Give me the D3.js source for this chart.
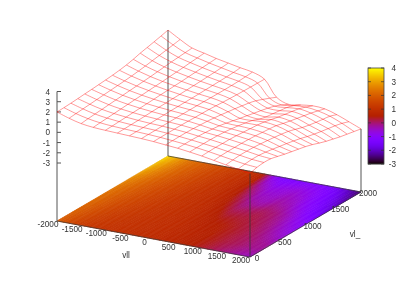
<!DOCTYPE html>
<html>
<head>
<meta charset="utf-8">
<script src="https://cdn.jsdelivr.net/npm/d3@7"></script>
<style>
  html, body { margin: 0; padding: 0; background: #fff; }
  svg { filter: blur(0.35px); }
  text { font-family: "Liberation Sans", sans-serif; font-size: 8.2px; fill: #333; }
</style>
</head>
<body>
<div id="chart"></div>
<script>
const svgWidth = 419
const svgHeight = 293

const xTicks = [-2000, -1500, -1000, -500, 0, 500, 1000, 1500, 2000]
const yTicks = [0, 500, 1000, 1500, 2000]
const zTicks = [-3, -2, -1, 0, 1, 2, 3, 4]
const xValues = d3.range(-2000, 2001, 250)
const yValues = d3.range(0, 2001, 125)

// one row per vl_ value, one column per vll value
const zRows = [
  [2.00,1.60,1.30,1.15,1.08,1.03,.98,.93,.86,.75,.65,.50,.33,.12,-.10,-.30,-.50],
  [2.02,1.66,1.38,1.20,1.10,1.04,.99,.94,.87,.77,.66,.52,.36,.17,-.02,-.20,-.30],
  [2.06,1.72,1.44,1.26,1.14,1.06,1.00,.95,.88,.78,.66,.52,.38,.20,.05,-.13,-.22],
  [2.11,1.78,1.50,1.31,1.18,1.08,1.01,.96,.88,.78,.64,.52,.36,.20,.05,-.14,-.25],
  [2.17,1.84,1.56,1.36,1.22,1.11,1.03,.96,.88,.76,.60,.50,.36,.20,.03,-.22,-.42],
  [2.22,1.90,1.62,1.42,1.26,1.14,1.04,.97,.87,.72,.54,.46,.33,.18,-.03,-.33,-.60],
  [2.28,1.96,1.68,1.47,1.30,1.17,1.06,.97,.85,.68,.46,.38,.28,.14,-.10,-.46,-.75],
  [2.34,2.02,1.74,1.52,1.34,1.19,1.07,.97,.84,.61,.32,.28,.22,.08,-.18,-.58,-.90],
  [2.41,2.08,1.80,1.57,1.38,1.22,1.08,.97,.82,.52,.16,.16,.18,.02,-.28,-.72,-1.05],
  [2.50,2.15,1.86,1.62,1.42,1.24,1.09,.97,.78,.42,.00,.00,.08,-.06,-.40,-.88,-1.25],
  [2.62,2.24,1.92,1.67,1.46,1.27,1.10,.96,.74,.32,-.14,-.26,-.08,-.24,-.60,-1.08,-1.50],
  [2.78,2.34,2.00,1.73,1.50,1.30,1.12,.95,.70,.20,-.30,-.44,-.24,-.40,-.82,-1.24,-1.72],
  [2.98,2.46,2.08,1.79,1.55,1.33,1.14,.95,.67,.08,-.44,-.52,-.36,-.54,-.98,-1.38,-1.90],
  [3.14,2.58,2.16,1.85,1.60,1.37,1.16,.96,.65,-.10,-.60,-.62,-.48,-.68,-1.10,-1.50,-2.08],
  [3.30,2.70,2.22,1.92,1.65,1.41,1.18,.98,.63,-.36,-.80,-.72,-.62,-.82,-1.20,-1.62,-2.22],
  [3.47,2.82,2.28,1.98,1.70,1.46,1.22,1.02,.62,-.64,-1.08,-.92,-.85,-1.00,-1.30,-1.78,-2.36],
  [3.65,2.95,2.33,2.05,1.75,1.52,1.28,1.08,.60,-.95,-1.42,-1.26,-1.12,-1.20,-1.55,-2.02,-2.50]
]

let svg = d3
  .select("#chart")
  .append("svg")
  .attr("width", svgWidth)
  .attr("height", svgHeight)
  .style("display", "block")

// Screen offsets of the base plane, from its left corner
const xScreen = d3.scaleLinear().domain([-2000, 2000]).range([0, 1])
const yScreen = d3.scaleLinear().domain([0, 2000]).range([0, 1])
const zLift = d3.scaleLinear().domain([-3, 4]).range([58, 129.5])

function project(x, y, z) {
  let u = xScreen(x)
  let v = yScreen(y)
  return [57 + 193 * u + 111 * v, 221 + 36 * u - 65 * v - (z === null ? 0 : zLift(z))]
}

// gnuplot's default 7,5,15 palette
const colorPos = d3.scaleLinear().domain([-3, 4]).range([0, 1]).clamp(true)
function palette(z) {
  let g = colorPos(z)
  let b = Math.max(0, Math.sin(2 * Math.PI * g))
  return d3.rgb(255 * Math.sqrt(g), 255 * g * g * g, 255 * b).formatHex()
}

const line = d3.line()
const meshLine = d3.line().curve(d3.curveCatmullRom.alpha(0.5))

// Base map, each cell split so the colours blend
const steps = 4
let base = svg.append("g")
for (let j = 0; j < yValues.length - 1; j++) {
  for (let i = 0; i < xValues.length - 1; i++) {
    let z00 = zRows[j][i], z10 = zRows[j][i + 1], z01 = zRows[j + 1][i], z11 = zRows[j + 1][i + 1]
    for (let a = 0; a < steps; a++) {
      for (let b = 0; b < steps; b++) {
        let s = (a + 0.5) / steps
        let t = (b + 0.5) / steps
        let z = z00 * (1 - s) * (1 - t) + z10 * s * (1 - t) + z01 * (1 - s) * t + z11 * s * t
        let x0 = xValues[i] + (a / steps) * 250
        let x1 = xValues[i] + ((a + 1) / steps) * 250
        let y0 = yValues[j] + (b / steps) * 125
        let y1 = yValues[j] + ((b + 1) / steps) * 125
        let c = palette(z)
        base
          .append("path")
          .attr("d", line([
            project(x0, y0, null),
            project(x1, y0, null),
            project(x1, y1, null),
            project(x0, y1, null)
          ]) + "Z")
          .attr("fill", c)
          .attr("stroke", c)
          .attr("stroke-width", 0.6)
      }
    }
  }
}

// Border of the base plane, left side stays unlined
let border = svg.append("g").attr("fill", "none").attr("stroke", "#333").attr("stroke-width", 0.7)
border.append("path").attr("d", line([
  project(-2000, 2000, null),
  project(2000, 2000, null),
  project(2000, 0, null),
  project(-2000, 0, null)
]))

// Vertical axis lines
const lastRow = zRows[zRows.length - 1]
let verticals = svg.append("g").attr("stroke", "#555").attr("stroke-width", 1)
function vertical(x, y, z) {
  verticals.append("path").attr("d", line([project(x, y, null), project(x, y, z)]))
}
vertical(-2000, 0, 4)
vertical(-2000, 2000, lastRow[0])
vertical(2000, 2000, lastRow[lastRow.length - 1])

// z axis ticks and labels
let zAxis = svg.append("g")
zTicks.forEach(z => {
  let p = project(-2000, 0, z)
  zAxis.append("path").attr("d", line([p, [p[0] + 4, p[1]]])).attr("stroke", "#555").attr("stroke-width", 1)
  zAxis.append("text").attr("x", p[0] - 7).attr("y", p[1] + 3).attr("text-anchor", "end").text(z)
})

// Wire mesh
let mesh = svg.append("g").attr("fill", "none").attr("stroke", "#ff0000").attr("stroke-width", 0.5).attr("stroke-opacity", 0.8)
zRows.forEach((row, j) => {
  mesh.append("path").attr("d", meshLine(row.map((z, i) => project(xValues[i], yValues[j], z))))
})
xValues.forEach((x, i) => {
  mesh.append("path").attr("d", meshLine(zRows.map((row, j) => project(x, yValues[j], row[i]))))
})

// Front vertical sits on top of the map
svg.append("path")
  .attr("d", line([project(2000, 0, null), project(2000, 0, zRows[0][16])]))
  .attr("stroke", "#333")
  .attr("stroke-width", 0.8)

// Tick labels on the base plane
let labels = svg.append("g").attr("text-anchor", "middle")
xTicks.forEach(x => {
  let p = project(x, 0, null)
  labels.append("text").attr("x", p[0] - 9).attr("y", p[1] + 6).text(x)
})
yTicks.forEach(y => {
  let p = project(2000, y, null)
  labels.append("text").attr("x", p[0] + 7).attr("y", p[1] + 4).text(y)
})
labels.append("text").attr("x", 126).attr("y", 258).text("vll")
labels.append("text").attr("x", 355).attr("y", 237).text("vl_")

// Colour box
const barTop = 68
const barHeight = 96
const barY = d3.scaleLinear().domain([-3, 4]).range([barTop + barHeight, barTop])
let bar = svg.append("g")
d3.range(0, barHeight).forEach(k => {
  bar.append("rect")
    .attr("x", 368)
    .attr("y", barTop + k)
    .attr("width", 16)
    .attr("height", 1.2)
    .attr("fill", palette(barY.invert(barTop + k + 0.5)))
})
bar.append("rect")
  .attr("x", 368)
  .attr("y", barTop)
  .attr("width", 16)
  .attr("height", barHeight)
  .attr("fill", "none")
  .attr("stroke", "#444")
  .attr("stroke-width", 0.8)
zTicks.forEach(z => {
  let y = barY(z)
  bar.append("path").attr("d", line([[368, y], [371, y]])).attr("stroke", "#333").attr("stroke-width", 0.7)
  bar.append("path").attr("d", line([[381, y], [384, y]])).attr("stroke", "#333").attr("stroke-width", 0.7)
  bar.append("text").attr("x", 396).attr("y", y + 3).attr("text-anchor", "end").text(z)
})
</script>
</body>
</html>
